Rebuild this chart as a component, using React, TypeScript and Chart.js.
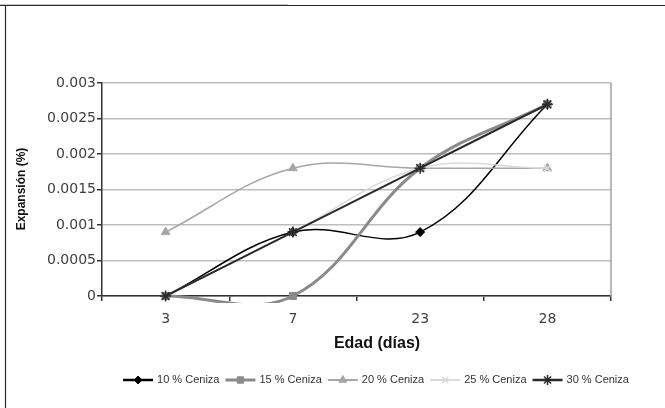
import React, { useEffect, useRef } from "react";
import { Chart, registerables } from "chart.js";
import { drawPoint } from "chart.js/helpers";

Chart.register(...registerables);

const categories = ["3", "7", "23", "28"];
const s10 = [0, 0.0009, 0.0009, 0.0027];
const s15 = [0, 0, 0.0018, 0.0027];
const s20 = [0.0009, 0.0018, 0.0018, 0.0018];
const s25 = [0, 0.0009, 0.0018, 0.0018];
const s30 = [0, 0.0009, 0.0018, 0.0027];
const seriesNames = ["10 % Ceniza", "15 % Ceniza", "20 % Ceniza", "25 % Ceniza", "30 % Ceniza"];
const yTickLabels = ["0", "0.0005", "0.001", "0.0015", "0.002", "0.0025", "0.003"];
const xTitle = "Edad (días)";
const yTitle = "Expansión (%)";

const styles = [
  { color: "#000000", width: 1.5, legendWidth: 2.5, point: "rectRot", radius: 4.5, pbw: 1 },
  { color: "#8a8a8a", width: 3, legendWidth: 3, point: "rect", radius: 5, pbw: 1 },
  { color: "#a6a6a6", width: 1.5, legendWidth: 2, point: "triangle", radius: 5, pbw: 1 },
  { color: "#dadada", width: 1.5, legendWidth: 2, point: "crossRot", radius: 5, pbw: 1.5 },
  { color: "#2a2a2a", width: 2, legendWidth: 2.5, point: "star", radius: 5.5, pbw: 1.5 },
];

export default function App() {
  const ref = useRef<HTMLCanvasElement | null>(null);
  useEffect(() => {
    if (!ref.current) return;
    const values = [s10, s15, s20, s25, s30];
    const framePlugin = {
      id: "frame",
      beforeDraw(chart: any) {
        const ctx = chart.ctx;
        ctx.save();
        ctx.fillStyle = "#ffffff";
        ctx.fillRect(0, 0, chart.width, chart.height);
        ctx.strokeStyle = "#c8c8c8";
        ctx.lineWidth = 1;
        ctx.beginPath();
        ctx.moveTo(0, 4.5);
        ctx.lineTo(288, 4.5);
        ctx.stroke();
        ctx.strokeStyle = "#2a2a2a";
        ctx.lineWidth = 1.2;
        ctx.beginPath();
        ctx.moveTo(0, 5.5);
        ctx.lineTo(chart.width, 5.5);
        ctx.moveTo(5.5, 5.5);
        ctx.lineTo(5.5, chart.height);
        ctx.stroke();
        ctx.restore();
      },
      afterDraw(chart: any) {
        const ctx = chart.ctx;
        const area = chart.chartArea;
        ctx.save();
        ctx.strokeStyle = "#a0a0a0";
        ctx.lineWidth = 1.5;
        ctx.beginPath();
        ctx.moveTo(area.right, area.top);
        ctx.lineTo(area.right, area.bottom);
        ctx.stroke();
        ctx.fillStyle = "#111";
        ctx.font = "bold 16px 'Liberation Sans', Arial, sans-serif";
        ctx.textAlign = "center";
        ctx.textBaseline = "middle";
        ctx.fillText(xTitle, 377, 344);
        ctx.save();
        ctx.translate(22, 189);
        ctx.rotate(-Math.PI / 2);
        ctx.font = "bold 12px 'Liberation Sans', Arial, sans-serif";
        ctx.fillText(yTitle, 0, 0);
        ctx.restore();
        ctx.font = "11px 'Liberation Sans', Arial, sans-serif";
        const lineLen = 30;
        const gapText = 4;
        const gapItem = 6;
        const widths = seriesNames.map((n) => lineLen + gapText + ctx.measureText(n).width + gapItem);
        const total = widths.reduce((a, b) => a + b, 0) - gapItem;
        let x = 376 - total / 2;
        const y = 380;
        seriesNames.forEach((name, i) => {
          const st = styles[i];
          ctx.strokeStyle = st.color;
          ctx.lineWidth = st.legendWidth;
          ctx.beginPath();
          ctx.moveTo(x, y);
          ctx.lineTo(x + lineLen, y);
          ctx.stroke();
          ctx.fillStyle = st.color;
          ctx.strokeStyle = st.color;
          ctx.lineWidth = st.pbw;
          drawPoint(ctx, { pointStyle: st.point, radius: st.radius - 0.5, borderWidth: st.pbw, rotation: 0 } as any, x + lineLen / 2, y);
          ctx.fillStyle = "#333";
          ctx.textAlign = "left";
          ctx.textBaseline = "middle";
          ctx.fillText(name, x + lineLen + gapText, y);
          x += widths[i];
        });
        ctx.restore();
      },
    };

    const chart = new Chart(ref.current, {
      type: "line",
      data: {
        labels: categories,
        datasets: values.map((v, i) => ({
          label: seriesNames[i],
          data: v,
          borderColor: styles[i].color,
          backgroundColor: styles[i].color,
          borderWidth: styles[i].width,
          pointStyle: styles[i].point as any,
          pointRadius: styles[i].radius,
          pointBorderWidth: styles[i].pbw,
          pointBorderColor: styles[i].color,
          pointBackgroundColor: styles[i].color,
          tension: 0.38,
          capBezierPoints: false,
          fill: false,
          clip: 7,
          order: 5 - i,
        })),
      },
      options: {
        responsive: false,
        animation: false,
        layout: { padding: { top: 83, right: 54, left: 0, bottom: 0 } },
        plugins: { legend: { display: false }, tooltip: { enabled: false }, title: { display: false } },
        scales: {
          x: {
            type: "category",
            offset: true,
            grid: { display: true, drawOnChartArea: false, offset: true, tickLength: 5, color: "#333", lineWidth: 1.5 },
            border: { display: true, color: "#333", width: 1.5 },
            ticks: { color: "#404040", font: { family: "'DejaVu Sans', sans-serif", size: 14 }, padding: 10 },
            afterFit: (s: any) => { s.height = 112; },
          },
          y: {
            min: 0,
            max: 0.003,
            ticks: {
              stepSize: 0.0005,
              color: "#404040",
              font: { family: "'DejaVu Sans', sans-serif", size: 14 },
              padding: 1,
              callback: (_v: any, idx: number) => yTickLabels[idx],
            },
            grid: { color: "#bdbdbd", lineWidth: 1.5, tickLength: 5, tickColor: "#333" },
            border: { display: true, color: "#333", width: 1.5 },
            afterFit: (s: any) => { s.width = 102; },
          },
        },
      },
      plugins: [framePlugin],
    } as any);
    return () => chart.destroy();
  }, []);
  return (
    <div style={{ position: "fixed", left: 0, top: 0, width: 665, height: 408, background: "#fff" }}>
      <canvas ref={ref} width={665} height={408} style={{ display: "block", width: 665, height: 408 }} />
    </div>
  );
}
